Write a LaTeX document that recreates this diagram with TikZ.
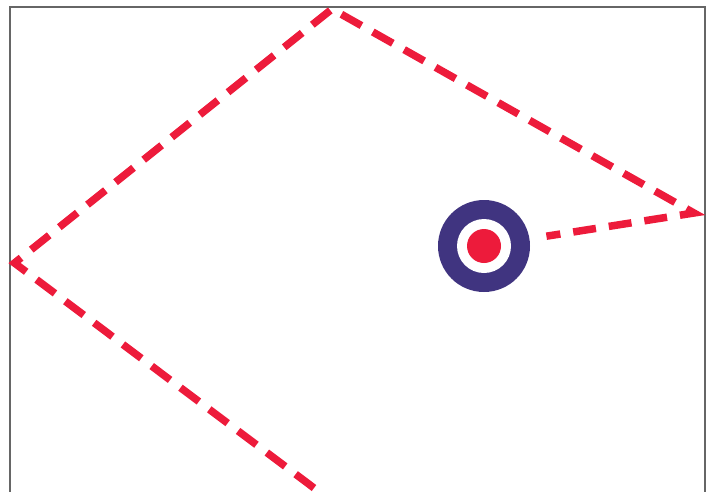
\documentclass[tikz,border=0pt]{standalone}
\usepackage{xcolor}
\usepackage{tikz}
\usetikzlibrary{calc}

\definecolor{routered}{RGB}{237,27,59}
\definecolor{targetblue}{RGB}{64,52,128}

\begin{document}
\begin{tikzpicture}[
    x=1pt, y=-1pt,
    frame/.style={draw=black!60, line width=1.3pt},
    route/.style={draw=routered, line width=7.5pt, dash pattern=on 23pt off 13pt, line join=miter},
    ring/.style={circle, inner sep=0pt, minimum size=#1}
]
\useasboundingbox (0,0) rectangle (716,491);
\draw[frame] (10,520) -- (10,7) -- (705,7) -- (705,520);

\node[ring=92pt, fill=targetblue] (target) at (484,246) {};
\node[ring=54pt, fill=white] (inner) at (target) {};
\node[ring=34pt, fill=routered] (bull) at (target) {};

\coordinate (start) at (314,488);
\coordinate (west) at (14.5,263);
\coordinate (north) at (332,9);
\coordinate (east) at (694,213);

\draw[route, shorten >=17pt] (start) -- (west) -- (north) -- (east) -- (target);
\end{tikzpicture}
\end{document}
